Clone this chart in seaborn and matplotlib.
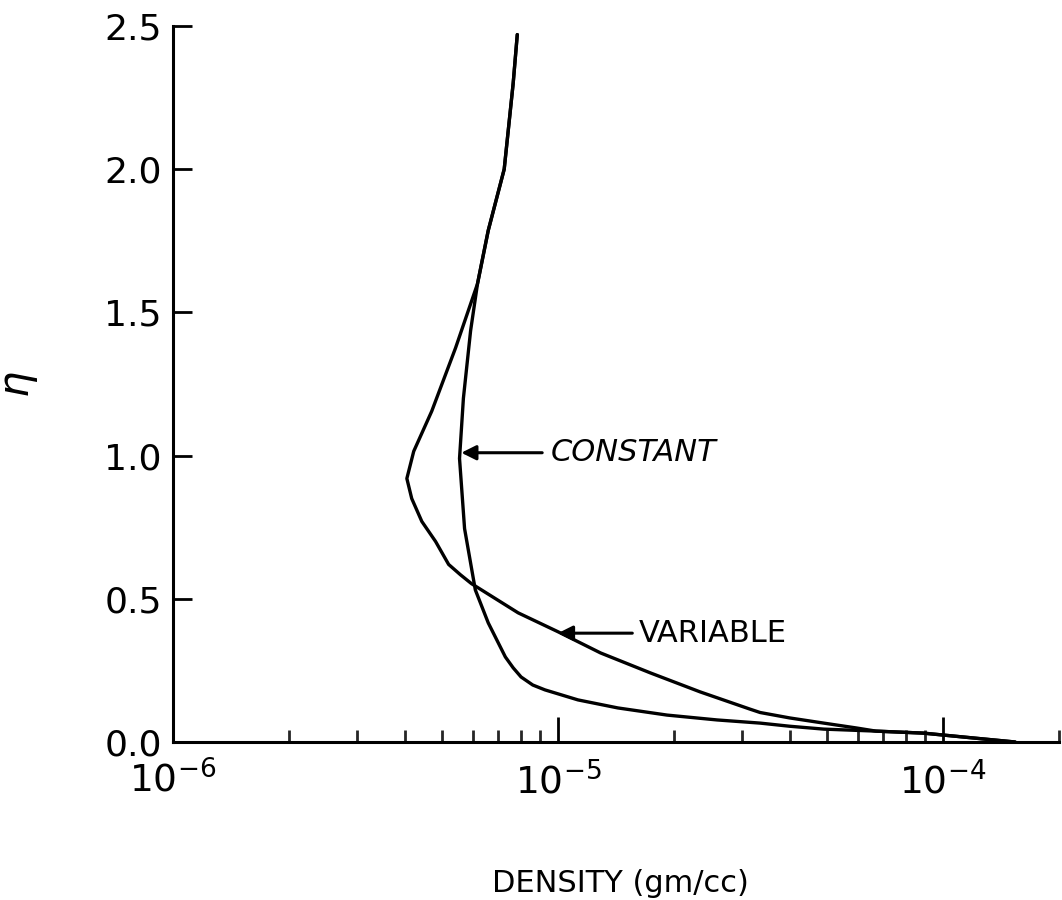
import numpy as np
import pandas as pd
import matplotlib
matplotlib.use("Agg")
import matplotlib.pyplot as plt
import matplotlib.ticker as mticker
import seaborn as sns

# ---- data ----
eta_const = [2.47, 2.30, 2.0, 1.786, 1.60, 1.436, 1.20, 0.99, 0.745, 0.531,
             0.416, 0.297, 0.259, 0.227, 0.199, 0.182, 0.147, 0.119, 0.094,
             0.077, 0.066, 0.055, 0.045, 0.038, 0.031, 0.014, 0.0]
rho_const = [7.84e-6, 7.65e-6, 7.25e-6, 6.59e-6, 6.18e-6, 5.93e-6, 5.68e-6,
             5.55e-6, 5.72e-6, 6.1e-6, 6.59e-6, 7.3e-6, 7.65e-6, 8.02e-6,
             8.6e-6, 9.25e-6, 1.127e-5, 1.43e-5, 1.92e-5, 2.59e-5, 3.35e-5,
             4.0e-5, 4.9e-5, 6.7e-5, 8.9e-5, 1.2e-4, 1.54e-4]

eta_var = [2.47, 2.30, 2.0, 1.786, 1.60, 1.376, 1.155, 1.015, 0.92, 0.85,
           0.77, 0.70, 0.62, 0.584, 0.553, 0.451, 0.385, 0.311, 0.241, 0.175,
           0.115, 0.103, 0.084, 0.066, 0.049, 0.038, 0.031, 0.014, 0.0]
rho_var = [7.84e-6, 7.65e-6, 7.25e-6, 6.59e-6, 6.18e-6, 5.42e-6, 4.70e-6,
           4.22e-6, 4.05e-6, 4.17e-6, 4.43e-6, 4.81e-6, 5.2e-6, 5.58e-6,
           5.96e-6, 7.88e-6, 1.0e-5, 1.29e-5, 1.74e-5, 2.34e-5, 3.15e-5,
           3.35e-5, 4.0e-5, 4.9e-5, 5.96e-5, 6.7e-5, 8.9e-5, 1.2e-4, 1.54e-4]

x_major = [1e-6, 1e-5, 1e-4]
x_tick_labels = [r"$10^{-6}$", r"$10^{-5}$", r"$10^{-4}$"]
y_ticks = [0.0, 0.5, 1.0, 1.5, 2.0, 2.5]
y_tick_labels = ["0.0", "0.5", "1.0", "1.5", "2.0", "2.5"]

df = pd.concat([
    pd.DataFrame({"density": rho_const, "eta": eta_const, "case": "CONSTANT"}),
    pd.DataFrame({"density": rho_var, "eta": eta_var, "case": "VARIABLE"}),
], ignore_index=True)

sns.set_style("ticks")
plt.rcParams["font.family"] = ["DejaVu Sans"]

fig = plt.figure(figsize=(10.62, 9.0), dpi=100)
ax = fig.add_axes([173 / 1062, 158 / 900, 1 - 173 / 1062 - 0.003, (742 - 26) / 900])

sns.lineplot(data=df, x="density", y="eta", hue="case", units="case",
             estimator=None, sort=False, palette=["black", "black"],
             legend=False, linewidth=2.4, ax=ax)

ax.set_xscale("log")
ax.set_xlim(1e-6, 2e-4)
ax.set_ylim(0, 2.5)

ax.xaxis.set_major_locator(mticker.FixedLocator(x_major))
ax.xaxis.set_major_formatter(mticker.FixedFormatter(x_tick_labels))
ax.xaxis.set_minor_locator(mticker.LogLocator(base=10, subs=np.arange(2, 10), numticks=50))
ax.xaxis.set_minor_formatter(mticker.NullFormatter())
ax.set_yticks(y_ticks)
ax.set_yticklabels(y_tick_labels)

for s in ["top", "right"]:
    ax.spines[s].set_visible(False)
for s in ["left", "bottom"]:
    ax.spines[s].set_linewidth(2.2)
    ax.spines[s].set_color("black")

ax.tick_params(axis="x", which="major", direction="in", length=18, width=2.0,
               labelsize=27, pad=14, colors="black")
ax.tick_params(axis="x", which="minor", direction="in", length=9, width=2.0)
ax.tick_params(axis="y", which="major", direction="in", length=14, width=2.0,
               labelsize=26, pad=8, colors="black")

ax.set_xlabel("DENSITY (gm/cc)", fontsize=22, color="black")
ax.xaxis.set_label_coords(0.505, -0.178)
ax.set_ylabel(r"$\eta$", fontsize=30, color="black", rotation=90)
ax.yaxis.set_label_coords(-0.15, 0.5)

arrow_kw = dict(arrowstyle="-|>", color="black", lw=2.2, mutation_scale=22,
                shrinkA=0, shrinkB=0)
ax.annotate("", xy=(5.61e-6, 1.01), xytext=(9.1e-6, 1.01), arrowprops=arrow_kw)
ax.text(9.6e-6, 1.01, "CONSTANT", fontsize=22, style="italic",
        ha="left", va="center", color="black")
ax.annotate("", xy=(1.0e-5, 0.38), xytext=(1.56e-5, 0.38), arrowprops=arrow_kw)
ax.text(1.62e-5, 0.38, "VARIABLE", fontsize=22,
        ha="left", va="center", color="black")

fig.savefig("out.png", dpi=100, facecolor="white")
